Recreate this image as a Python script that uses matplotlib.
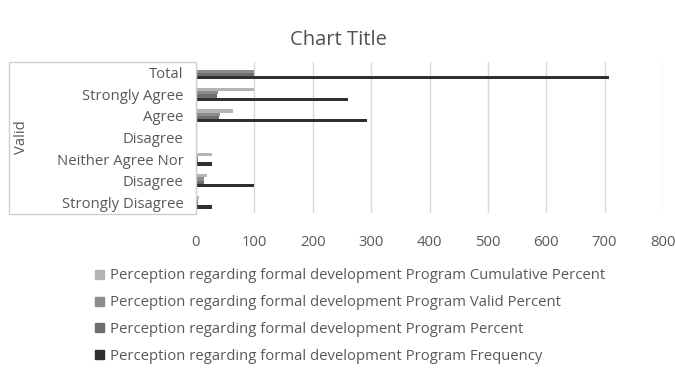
import numpy as np
import matplotlib
matplotlib.use("Agg")
import matplotlib.pyplot as plt
from matplotlib.patches import Rectangle, Patch

plt.rcParams['font.family'] = ['Open Sans', 'DejaVu Sans']

categories = ["Strongly Disagree", "Disagree", "Neither Agree Nor", "Disagree",
              "Agree", "Strongly Agree", "Total"]
frequency = [27, 100, 27, 0, 293, 261, 708]
percent = [3.8, 13.5, 3.8, 0, 39.7, 35.3, 100]
valid_percent = [3.8, 14.1, 3.8, 0, 41.4, 36.9, 100]
cumulative_percent = [4.4, 19.7, 27.0, 0, 64.0, 100, 0]

prefix = "Perception regarding formal development Program "
series = [
    ("Frequency", frequency, "#303030"),
    ("Percent", percent, "#6e6e6e"),
    ("Valid Percent", valid_percent, "#8c8c8c"),
    ("Cumulative Percent", cumulative_percent, "#b4b4b4"),
]

text_col = "#595959"
fig = plt.figure(figsize=(6.75, 3.83), dpi=100)
W, H = 675, 383
ax = fig.add_axes([196 / W, 1 - 213 / H, (663 - 196) / W, (213 - 62) / H])

y = np.arange(len(categories))
bh = 0.15
for i, (name, vals, col) in enumerate(series):
    ax.barh(y + (i - 1.5) * bh, vals, height=bh, color=col, zorder=3)

ax.set_xlim(0, 800)
ax.set_ylim(-0.5, len(categories) - 0.5)
ax.set_xticks(range(0, 801, 100))
ax.grid(axis='x', color="#d9d9d9", linewidth=1, zorder=0)
ax.set_yticks(y)
ax.set_yticklabels(categories, fontsize=10.7, color=text_col)
ax.tick_params(axis='both', length=0, colors=text_col, labelsize=10.7)
ax.tick_params(axis='y', pad=9)
ax.tick_params(axis='x', pad=16)
for s in ax.spines.values():
    s.set_visible(False)

# box around the category labels with the outer group label
fig.patches.append(Rectangle((9 / W, 1 - 214 / H), (196 - 9) / W, (214 - 62) / H,
                             transform=fig.transFigure, fill=False,
                             edgecolor="#d0d0d0", linewidth=1))
fig.text(22 / W, 1 - 137 / H, "Valid", rotation=90, ha='center', va='center',
         fontsize=10.7, color=text_col)

fig.text(338 / W, 1 - 40 / H, "Chart Title", ha='center', va='center',
         fontsize=14.5, color="#505050")

handles = [Patch(color=c) for _, _, c in series[::-1]]
labels = [prefix + n for n, _, _ in series[::-1]]
fig.legend(handles, labels, loc='upper left', bbox_to_anchor=(88 / W, 1 - 261 / H),
           frameon=False, fontsize=10.7, labelcolor=text_col, handlelength=0.55,
           handleheight=0.55, handletextpad=0.4, labelspacing=0.8, borderpad=0)

fig.savefig("out.png", dpi=100, facecolor="white")
